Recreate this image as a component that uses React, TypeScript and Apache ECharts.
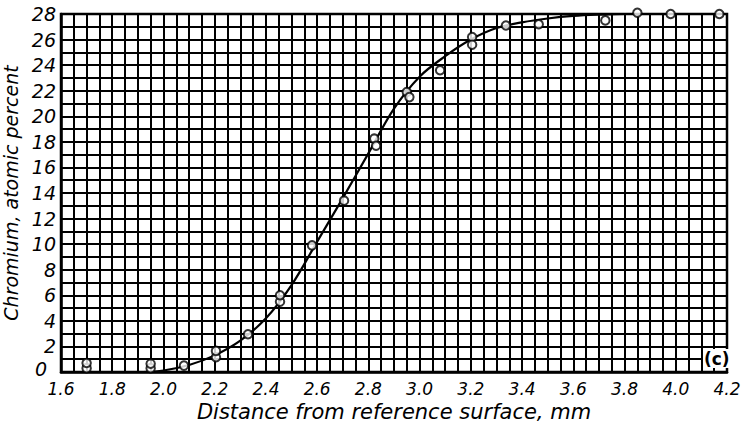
import React, { useEffect, useRef } from "react";
import * as echarts from "echarts";

const xTickLabels = ["1.6", "1.8", "2.0", "2.2", "2.4", "2.6", "2.8", "3.0", "3.2", "3.4", "3.6", "3.8", "4.0", "4.2"];
const yTickLabels = ["0", "2", "4", "6", "8", "10", "12", "14", "16", "18", "20", "22", "24", "26", "28"];

// measured points (distance mm, chromium atomic %)
const pointX = [1.7, 1.7, 1.95, 1.95, 2.08, 2.205, 2.205, 2.33, 2.455, 2.455, 2.58, 2.705, 2.823, 2.83, 2.95, 2.96, 3.08, 3.205, 3.205, 3.337, 3.465, 3.725, 3.85, 3.98, 4.17];
const pointY = [0.3, 0.7, 0.3, 0.65, 0.5, 1.15, 1.65, 2.95, 5.5, 6.0, 9.9, 13.4, 18.25, 17.7, 21.9, 21.5, 23.6, 26.2, 25.6, 27.1, 27.2, 27.5, 28.1, 28.0, 28.0];

// fitted curve
const curveX = [1.92, 2.0, 2.1, 2.2, 2.3, 2.4, 2.5, 2.6, 2.7, 2.8, 2.9, 3.0, 3.1, 3.2, 3.3, 3.4, 3.5, 3.6, 3.7, 3.8, 4.2];
const curveY = [0, 0.12, 0.55, 1.3, 2.45, 4.2, 6.8, 10.2, 13.6, 17.1, 20.6, 23.1, 24.7, 26.0, 26.9, 27.35, 27.65, 27.85, 27.95, 28.0, 28.0];

const FONT = "DejaVu Sans";

export default function App() {
  const ref = useRef<HTMLDivElement>(null);
  useEffect(() => {
    document.body.style.margin = "0";
    const chart = echarts.init(ref.current!, null, { renderer: "svg" });
    const gridLine = { show: true, lineStyle: { color: "#000", width: 2 } };
    chart.setOption({
      animation: false,
      backgroundColor: "#fff",
      grid: {
        left: 61,
        right: 19,
        top: 14,
        bottom: 61,
        show: true,
        borderColor: "#000",
        borderWidth: 2.5,
        containLabel: false,
        outerBoundsMode: "none",
      },
      xAxis: {
        type: "value",
        min: 1.6,
        max: 4.2,
        interval: 0.2,
        name: "Distance from reference surface, mm",
        nameLocation: "middle",
        nameGap: 28,
        nameTextStyle: { fontFamily: FONT, fontStyle: "italic", fontSize: 21, color: "#000" },
        axisLine: { show: true, lineStyle: { color: "#000", width: 2.5 } },
        axisTick: { show: false },
        axisLabel: {
          color: "#000",
          fontFamily: FONT,
          fontStyle: "italic",
          fontSize: 17,
          margin: 8,
          formatter: (v: number) => xTickLabels[Math.round((v - 1.6) / 0.2)] ?? "",
        },
        splitLine: gridLine,
        minorTick: { show: false, splitNumber: 4 },
        minorSplitLine: gridLine,
      },
      yAxis: {
        type: "value",
        min: 0,
        max: 28,
        interval: 2,
        name: "Chromium, atomic percent",
        nameLocation: "middle",
        nameGap: 36,
        nameTextStyle: { fontFamily: FONT, fontStyle: "italic", fontSize: 19, color: "#000" },
        axisLine: { show: true, lineStyle: { color: "#000", width: 2.5 } },
        axisTick: { show: false },
        axisLabel: {
          color: "#000",
          fontFamily: FONT,
          fontStyle: "italic",
          fontSize: 19,
          margin: 5,
          formatter: (v: number) => {
            const t = yTickLabels[Math.round(v / 2)] ?? "";
            return v === 0 ? "{z|" + t + "}" : t;
          },
          rich: {
            z: { fontFamily: FONT, fontStyle: "italic", fontSize: 19, color: "#000", padding: [0, 9, 6, 0] },
          },
        },
        splitLine: gridLine,
        minorTick: { show: false, splitNumber: 2 },
        minorSplitLine: gridLine,
      },
      graphic: [
        {
          type: "text",
          left: 703,
          top: 349,
          z: 100,
          style: {
            text: "(c)",
            fontFamily: FONT,
            fontSize: 17,
            fontWeight: "bold",
            fill: "#000",
            backgroundColor: "#fff",
            padding: [1, 1, 1, 1],
          },
        },
      ],
      series: [
        {
          type: "line",
          data: curveX.map((x, i) => [x, curveY[i]]),
          smooth: 0.35,
          showSymbol: false,
          clip: false,
          lineStyle: { color: "#000", width: 2.2 },
          z: 3,
        },
        {
          type: "scatter",
          data: pointX.map((x, i) => [x, pointY[i]]),
          symbol: "circle",
          symbolSize: 8.5,
          clip: false,
          itemStyle: { color: "#fff", borderColor: "#000", borderWidth: 2 },
          z: 4,
        },
      ],
    });
    return () => chart.dispose();
  }, []);
  return <div ref={ref} style={{ width: 746, height: 433 }} />;
}
